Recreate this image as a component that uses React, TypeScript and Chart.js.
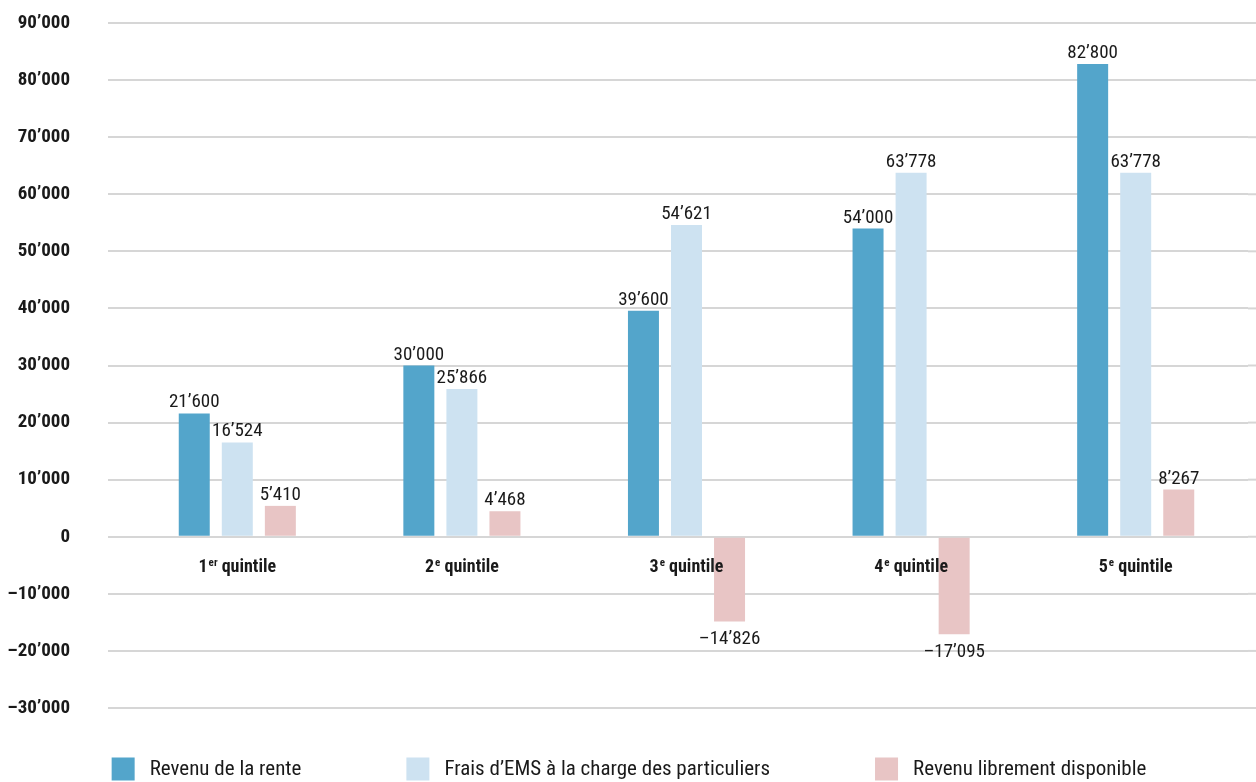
import React, { useEffect, useRef } from "react";
import { Chart, registerables } from "chart.js";

Chart.register(...registerables);

const categoryNumbers = ["1", "2", "3", "4", "5"];
const categorySuperscripts = ["er", "e", "e", "e", "e"];
const categoryWord = "quintile";
const categories = categoryNumbers.map((n, i) => n + categorySuperscripts[i] + " " + categoryWord);

const seriesNames = [
  "Revenu de la rente",
  "Frais d’EMS à la charge des particuliers",
  "Revenu librement disponible",
];
const revenuRente = [21600, 30000, 39600, 54000, 82800];
const fraisEMS = [16524, 25866, 54621, 63778, 63778];
const revenuLibre = [5410, 4468, -14826, -17095, 8267];
const seriesColors = ["#53a5cb", "#cde2f1", "#e8c5c5"];

const yTicks = [-30000, -20000, -10000, 0, 10000, 20000, 30000, 40000, 50000, 60000, 70000, 80000, 90000];

const FONT = "'Roboto Condensed', 'Liberation Sans Narrow', 'DejaVu Sans Condensed', 'Liberation Sans', sans-serif";
const TEXT = "#1a1a1a";
const GRID = "#d6d6d6";

function fmt(v: number): string {
  const s = Math.abs(Math.round(v)).toString().replace(/\B(?=(\d{3})+(?!\d))/g, "’");
  return (v < 0 ? "–" : "") + s;
}

const gridExtensionPlugin = {
  id: "gridExtension",
  beforeDatasetsDraw(chart: any) {
    const ctx = chart.ctx;
    const y = chart.scales.y;
    const right = chart.chartArea.right;
    ctx.save();
    ctx.strokeStyle = GRID;
    ctx.lineWidth = 2;
    y.ticks.forEach((t: any) => {
      const py = y.getPixelForValue(t.value);
      ctx.beginPath();
      ctx.moveTo(right, py);
      ctx.lineTo(chart.width, py);
      ctx.stroke();
    });
    ctx.restore();
  },
};

const valueLabelsPlugin = {
  id: "valueLabels",
  afterDatasetsDraw(chart: any) {
    const ctx = chart.ctx;
    ctx.save();
    ctx.font = `19px ${FONT}`;
    ctx.fillStyle = TEXT;
    ctx.textAlign = "center";
    ctx.textBaseline = "alphabetic";
    chart.data.datasets.forEach((ds: any, di: number) => {
      const meta = chart.getDatasetMeta(di);
      meta.data.forEach((el: any, i: number) => {
        const v = ds.data[i];
        if (v >= 0) ctx.fillText(fmt(v), el.x, el.y - 6);
        else ctx.fillText(fmt(v), el.x, el.y + 23);
      });
    });
    ctx.restore();
  },
};

const categoryLabelsPlugin = {
  id: "categoryLabels",
  afterDatasetsDraw(chart: any) {
    const ctx = chart.ctx;
    const x = chart.scales.x;
    const y0 = chart.scales.y.getPixelForValue(0);
    ctx.save();
    ctx.fillStyle = TEXT;
    ctx.textBaseline = "alphabetic";
    ctx.textAlign = "left";
    const mainFont = `bold 18px ${FONT}`;
    const supFont = `bold 11px ${FONT}`;
    categoryNumbers.forEach((num, i) => {
      const cx = x.getPixelForValue(i);
      ctx.font = mainFont;
      const wNum = ctx.measureText(num).width;
      const wWord = ctx.measureText(" " + categoryWord).width;
      ctx.font = supFont;
      const wSup = ctx.measureText(categorySuperscripts[i]).width + 1;
      const total = wNum + wSup + wWord;
      let sx = cx - total / 2;
      const base = y0 + 35;
      ctx.font = mainFont;
      ctx.fillText(num, sx, base);
      sx += wNum + 1;
      ctx.font = supFont;
      ctx.fillText(categorySuperscripts[i], sx, base - 6);
      sx += wSup - 1;
      ctx.font = mainFont;
      ctx.fillText(" " + categoryWord, sx, base);
    });
    ctx.restore();
  },
};

const bottomLegendPlugin = {
  id: "bottomLegend",
  afterDraw(chart: any) {
    const ctx = chart.ctx;
    ctx.save();
    ctx.font = `21px ${FONT}`;
    ctx.textBaseline = "middle";
    ctx.textAlign = "left";
    const box = 23;
    const textGap = 15;
    const itemGap = 105;
    const widths = chart.data.datasets.map((ds: any) => box + textGap + ctx.measureText(ds.label).width);
    const total = widths.reduce((a: number, b: number) => a + b, 0) + itemGap * (widths.length - 1);
    let x = 629 - total / 2;
    const cy = 769;
    chart.data.datasets.forEach((ds: any, i: number) => {
      ctx.fillStyle = ds.backgroundColor;
      ctx.fillRect(x, cy - box / 2, box, box);
      ctx.fillStyle = TEXT;
      ctx.fillText(ds.label, x + box + textGap, cy + 1);
      x += widths[i] + itemGap;
    });
    ctx.restore();
  },
};

export default function App() {
  const ref = useRef<HTMLCanvasElement>(null);
  useEffect(() => {
    document.body.style.margin = "0";
    if (!ref.current) return;
    const chart = new Chart(ref.current, {
      type: "bar",
      data: {
        labels: categories,
        datasets: [
          { label: seriesNames[0], data: revenuRente, backgroundColor: seriesColors[0] },
          { label: seriesNames[1], data: fraisEMS, backgroundColor: seriesColors[1] },
          { label: seriesNames[2], data: revenuLibre, backgroundColor: seriesColors[2] },
        ],
      },
      options: {
        responsive: false,
        animation: false,
        layout: { padding: { top: 23, bottom: 74, left: 0, right: 8 } },
        datasets: {
          bar: { categoryPercentage: 0.575, barPercentage: 0.72 },
        },
        plugins: {
          legend: { display: false },
          tooltip: { enabled: false },
        },
        scales: {
          x: { display: false },
          y: {
            min: -30000,
            max: 90000,
            afterBuildTicks: (scale: any) => {
              scale.ticks = yTicks.map((v) => ({ value: v }));
            },
            afterFit: (scale: any) => {
              scale.width = 125;
              scale.paddingTop = 0;
              scale.paddingBottom = 0;
            },
            border: { display: false },
            grid: { color: GRID, lineWidth: 2, tickLength: 17, drawTicks: true },
            ticks: {
              padding: 38,
              color: TEXT,
              font: { family: FONT, size: 19, weight: "bold" },
              callback: (v: any) => fmt(Number(v)),
            },
          },
        },
      },
      plugins: [gridExtensionPlugin, valueLabelsPlugin, categoryLabelsPlugin, bottomLegendPlugin],
    });
    return () => chart.destroy();
  }, []);
  return (
    <div style={{ position: "absolute", left: 0, top: 0, width: 1256, height: 782, background: "#fff" }}>
      <canvas ref={ref} width={1256} height={782} />
    </div>
  );
}
